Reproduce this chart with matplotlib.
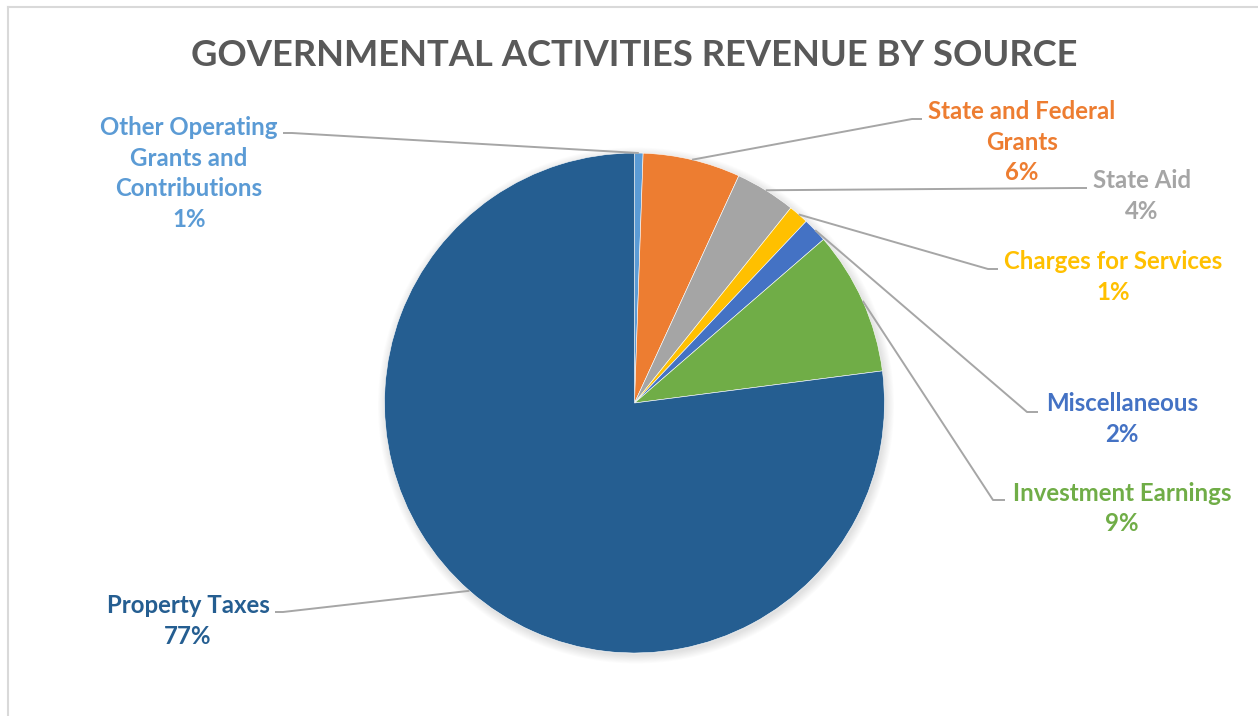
import matplotlib.pyplot as plt
import numpy as np
from matplotlib.patches import Circle

# Revenue shares (percent of total)
categories = ["Other Operating\nGrants and\nContributions", "State and Federal\nGrants",
              "State Aid", "Charges for Services", "Miscellaneous",
              "Investment Earnings", "Property Taxes"]
shares = [0.55, 6.3, 3.9, 1.3, 1.6, 9.3, 77.05]
colors = ["#5B9BD5", "#ED7D31", "#A5A5A5", "#FFC000", "#4472C4", "#70AD47", "#255E91"]
title = "GOVERNMENTAL ACTIVITIES REVENUE BY SOURCE"

W, H = 1258, 716
plt.rcParams['font.family'] = ['Lato', 'DejaVu Sans']

fig = plt.figure(figsize=(W / 100, H / 100), dpi=100)
ax = fig.add_axes([0, 0, 1, 1])

def Y(y):
    # layout positions are measured from the top edge
    return H - y

cx, cy, R = 634.5, Y(403), 250

# soft drop shadow behind the pie
for i in range(10):
    ax.add_patch(Circle((cx + 1.5, cy - 2.5), R + i * 0.9, color='black',
                        alpha=0.012, lw=0, zorder=0.5))

wedges, _ = ax.pie(shares, colors=colors, startangle=90, counterclock=False,
                   center=(cx, cy), radius=R, frame=True,
                   wedgeprops=dict(linewidth=0.4, edgecolor='white'))
for w in wedges:
    w.set_zorder(2)

ax.set_xlim(0, W)
ax.set_ylim(0, H)
ax.set_aspect('equal')
ax.axis('off')

# chart frame (top and left edges visible)
ax.plot([8, W + 5], [Y(7), Y(7)], color='#D9D9D9', lw=1.5, zorder=3, clip_on=False)
ax.plot([8, 8], [Y(7), -5], color='#D9D9D9', lw=1.5, zorder=3, clip_on=False)

ax.text(634, Y(56), title, ha='center', va='center', fontsize=26.2,
        fontweight='bold', color='#595959', zorder=4)

# label block centres and leader elbows: (text x, text y, elbow x, elbow y, text-side x)
label_layout = [
    (189, 173.5, 292, 133, 283),
    (1022, 142, 912, 119, 922),
    (1142, 196, 1077, 188, 1087),
    (1113, 277, 988, 269, 998),
    (1122, 419, 1027, 412, 1038),
    (1122, 508.5, 993, 500, 1005),
    (188, 621, 283, 612, 275),
]

total = sum(shares)
for w, name, val, col, (tx, ty, ex, ey, sx) in zip(wedges, categories, shares, colors, label_layout):
    mid = np.deg2rad((w.theta1 + w.theta2) / 2)
    px, py = cx + R * np.cos(mid), cy + R * np.sin(mid)
    ax.plot([px, ex, sx], [py, Y(ey), Y(ey)], color='#A6A6A6', lw=1.4,
            zorder=3, solid_capstyle='butt')
    pct = f"{val / total * 100:.0f}%"
    ax.text(tx, Y(ty), f"{name}\n{pct}", ha='center', va='center',
            multialignment='center', fontsize=17.3, fontweight='bold',
            color=col, linespacing=1.42, zorder=4)

fig.savefig("out.png", dpi=100, facecolor='white')
